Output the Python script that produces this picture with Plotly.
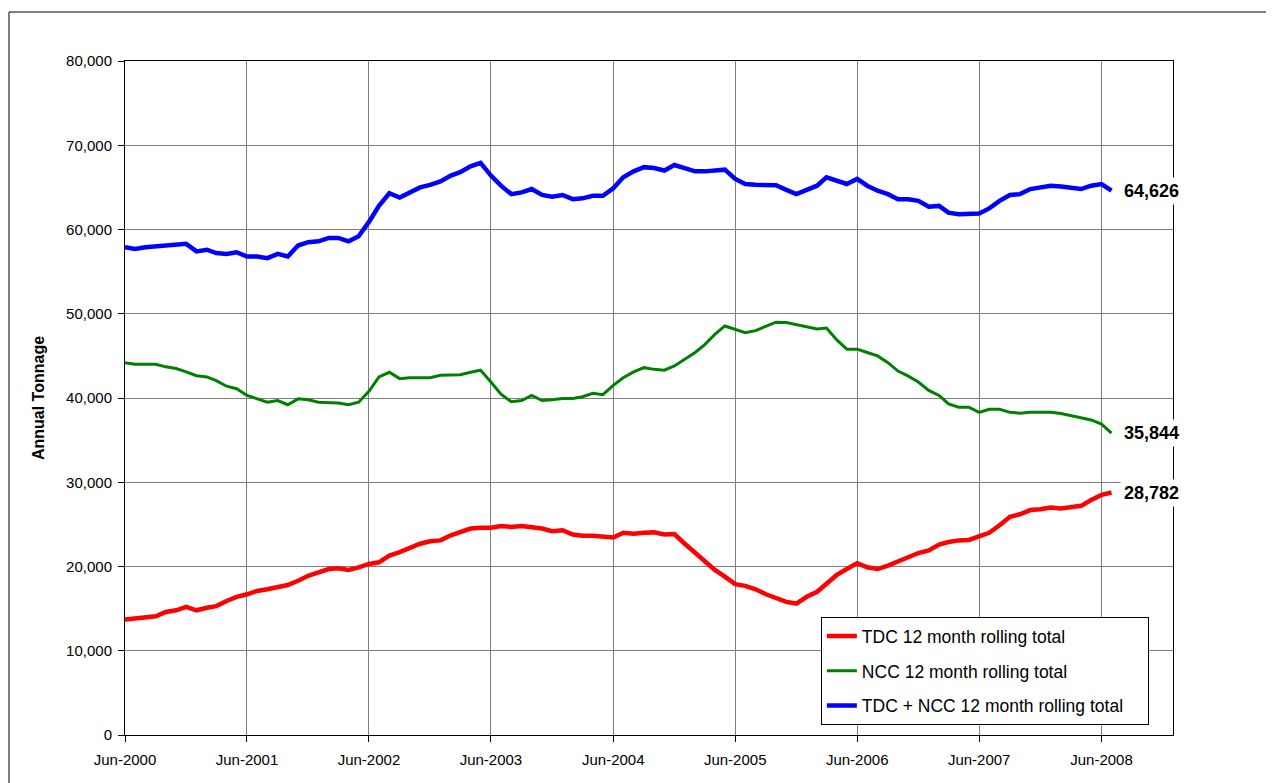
import pandas as pd
import plotly.graph_objects as go

months = pd.date_range("2000-06-01", periods=98, freq="MS")

tdc = [13700, 13800, 14000, 14100, 14600, 14800, 15200, 14800, 15100, 15300,
       15900, 16400, 16700, 17100, 17300, 17500, 17800, 18300, 18900, 19300,
       19700, 19800, 19600, 19900, 20300, 20500, 21300, 21700, 22200, 22700,
       23000, 23100, 23700, 24100, 24500, 24600, 24600, 24800, 24700, 24800,
       24650, 24500, 24200, 24300, 23800, 23650, 23650, 23600, 23450, 24000,
       23900, 24000, 24050, 23800, 23850, 22700, 21600, 20650, 19600, 18800,
       17900, 17700, 17300, 16700, 16300, 15800, 15600, 16400, 17000, 17900,
       19000, 19700, 20400, 19900, 19700, 20100, 20600, 21100, 21600, 21900,
       22600, 22900, 23100, 23150, 23600, 24000, 24900, 25900, 26200, 26700,
       26800, 27000, 26900, 27100, 27200, 27900, 28500, 28782]

ncc = [44200, 44000, 44000, 44000, 43700, 43500, 43100, 42650, 42500, 42050,
       41400, 41100, 40300, 39900, 39500, 39700, 39200, 39900, 39800, 39500,
       39450, 39400, 39200, 39500, 40800, 42500, 43050, 42300, 42400, 42400,
       42400, 42700, 42700, 42750, 43050, 43300, 41900, 40450, 39550, 39700,
       40300, 39700, 39800, 39950, 39950, 40150, 40550, 40400, 41500, 42400,
       43100, 43600, 43400, 43300, 43800, 44600, 45400, 46300, 47550, 48550,
       48100, 47750, 48000, 48550, 49000, 48950, 48700, 48400, 48200, 48300,
       46900, 45800, 45800, 45400, 45000, 44200, 43200, 42600, 41900, 40900,
       40300, 39300, 38900, 38900, 38300, 38650, 38650, 38300, 38200, 38300,
       38300, 38300, 38150, 37900, 37600, 37400, 36900, 35844]

total = [57900, 57700, 57900, 58000, 58200, 58200, 58300, 57400, 57600, 57200,
         57100, 57300, 56800, 56800, 56600, 57100, 56800, 58100, 58500, 58600,
         59000, 59000, 58600, 59200, 60900, 62800, 64300, 63800, 64400, 65000,
         65300, 65700, 66400, 66800, 67500, 67900, 66400, 65200, 64200, 64400,
         64800, 64100, 63900, 64100, 63600, 63700, 64000, 64000, 64900, 66200,
         66900, 67400, 67300, 67000, 67650, 67300, 66900, 66900, 67000, 67100,
         66000, 65400, 65300, 65250, 65250, 64700, 64200, 64700, 65200, 66200,
         65800, 65400, 66000, 65200, 64600, 64200, 63600, 63600, 63400, 62700,
         62800, 62000, 61800, 61900, 61900, 62500, 63400, 64100, 64200, 64800,
         65000, 65200, 65100, 65000, 64800, 65200, 65400, 64626]

tick_dates = ["2000-06-01", "2001-06-01", "2002-06-01", "2003-06-01", "2004-06-01",
              "2005-06-01", "2006-06-01", "2007-06-01", "2008-06-01"]
tick_text = ["Jun-2000", "Jun-2001", "Jun-2002", "Jun-2003", "Jun-2004",
             "Jun-2005", "Jun-2006", "Jun-2007", "Jun-2008"]

series = [
    ("TDC 12 month rolling total", tdc, "#FF0000", 4.5),
    ("NCC 12 month rolling total", ncc, "#008000", 3),
    ("TDC + NCC 12 month rolling total\u00a0\u00a0\u00a0\u00a0", total, "#0000FF", 4.5),
]

FONT = "Liberation Sans, Arial, sans-serif"

fig = go.Figure()
for i, (name, vals, color, w) in enumerate(series):
    fig.add_trace(go.Scatter(x=months, y=vals, mode="lines", name=name,
                             legendgroup=f"g{i}",
                             line=dict(color=color, width=w)))
    fig.add_annotation(x=months[-1], y=vals[-1], text=f"<b>{vals[-1]:,}</b>",
                       showarrow=False, xanchor="left", xshift=8,
                       bgcolor="white", borderpad=3,
                       font=dict(family=FONT, size=18, color="black"))

fig.update_layout(
    width=1266, height=775,
    margin=dict(l=117, r=101, t=53, b=48),
    paper_bgcolor="white", plot_bgcolor="white",
    font=dict(family=FONT, size=15, color="black"),
    showlegend=True,
    legend=dict(x=0.664, y=0.175, xanchor="left", yanchor="top",
                bgcolor="white", bordercolor="black", borderwidth=1,
                font=dict(size=17.5), traceorder="grouped", tracegroupgap=9),
    shapes=[dict(type="rect", xref="paper", yref="paper",
                 x0=-0.1107, x1=1.0926, y0=-0.2, y1=1.0727,
                 line=dict(color="black", width=1), layer="below")],
)

fig.update_xaxes(type="date", range=["2000-06-01", "2009-01-01"],
                 tickvals=tick_dates, ticktext=tick_text,
                 showgrid=True, gridcolor="#808080", gridwidth=1,
                 showline=True, linecolor="black", linewidth=1, mirror=True,
                 ticks="outside", ticklen=6, tickcolor="black",
                 ticklabelstandoff=5,
                 tickfont=dict(size=15), zeroline=False)
fig.update_yaxes(range=[0, 80000], dtick=10000, tickformat=",d",
                 showgrid=True, gridcolor="#808080", gridwidth=1,
                 showline=True, linecolor="black", linewidth=1, mirror=True,
                 ticks="outside", ticklen=6, tickcolor="black",
                 ticklabelstandoff=3,
                 tickfont=dict(size=15), zeroline=False,
                 title=dict(text="<b>Annual Tonnage</b>", font=dict(size=16), standoff=17))

fig.write_html("out.html")
